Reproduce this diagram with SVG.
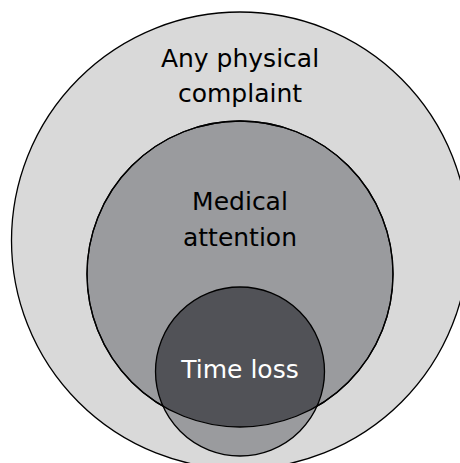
<svg xmlns="http://www.w3.org/2000/svg" width="460" height="463" viewBox="0 0 460 463">
<style>
.c{stroke:#000;stroke-width:1.3}
.t{font-family:"DejaVu Sans",sans-serif;font-size:25px;text-anchor:middle}
</style>
<defs>
<clipPath id="mid"><circle cx="240" cy="274" r="153"/></clipPath>
</defs>
<rect width="460" height="463" fill="#fff"/>
<g id="any">
<circle class="c" cx="240" cy="240.5" r="228.5" fill="#d9d9d9"/>
<text class="t" x="240" y="67" fill="#000">Any physical</text>
<text class="t" x="240" y="102" fill="#000">complaint</text>
</g>
<g id="medical">
<circle class="c" cx="240" cy="274" r="153" fill="#9a9b9e"/>
<text class="t" x="240" y="210" fill="#000">Medical</text>
<text class="t" x="240" y="246" fill="#000">attention</text>
</g>
<g id="timeloss">
<circle cx="240" cy="371.5" r="84.5" fill="#9a9b9e"/>
<circle cx="240" cy="371.5" r="84.5" fill="#515257" clip-path="url(#mid)"/>
<circle cx="240" cy="274" r="153" fill="none" class="c"/>
<circle class="c" cx="240" cy="371.5" r="84.5" fill="none"/>
<text class="t" x="240" y="378" fill="#fff">Time loss</text>
</g>
</svg>
